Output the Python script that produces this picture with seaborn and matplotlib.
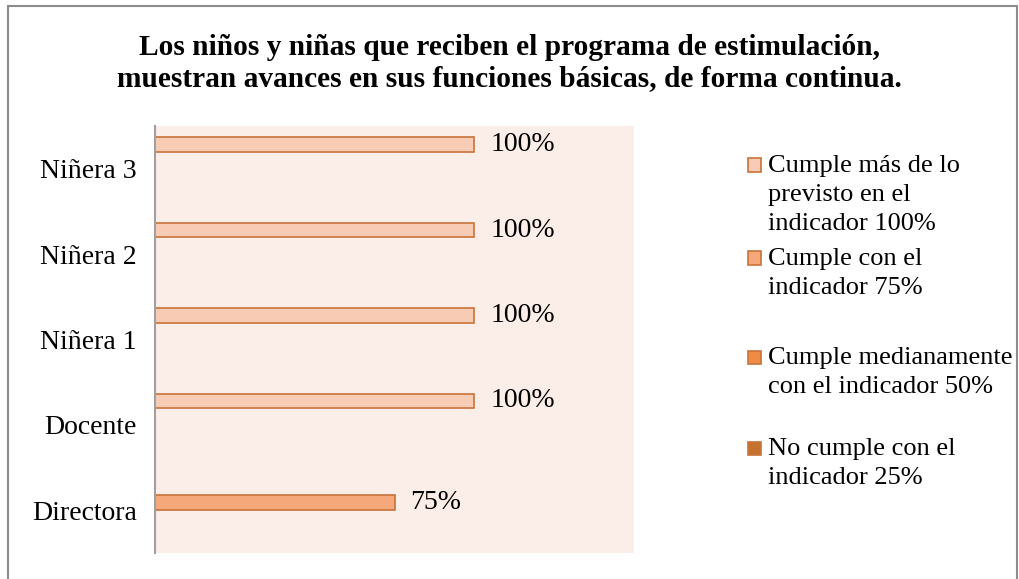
import matplotlib
matplotlib.use("Agg")
import matplotlib.pyplot as plt
import seaborn as sns
import pandas as pd
from matplotlib.patches import Rectangle

# =============================
# Data
# =============================
categories = ["Niñera 3", "Niñera 2", "Niñera 1", "Docente", "Directora"]
series = ["Cumple más de lo\nprevisto en el\nindicador 100%",
          "Cumple con el\nindicador 75%",
          "Cumple medianamente\ncon el indicador 50%",
          "No cumple con el\nindicador 25%"]
# one value per category, and which series it belongs to
values = [100, 100, 100, 100, 75]
value_series = [0, 0, 0, 0, 1]

title = ("Los niños y niñas que reciben el programa de estimulación,\n"
         "muestran avances en sus funciones básicas, de forma continua.")

colors = ["#F8CBB4", "#F5A97A", "#EE8C45", "#C6712E"]
edge = "#C8733A"

df = pd.DataFrame({
    "categoria": categories,
    "serie": [series[i] for i in value_series],
    "valor": values,
})

# =============================
# Style
# =============================
sns.set_theme(style="white")
plt.rcParams["font.family"] = ["Liberation Serif", "DejaVu Serif"]
plt.rcParams["text.color"] = "black"

W, H = 1019, 579
fig = plt.figure(figsize=(W / 100, H / 100), dpi=100)

# chart border
fig.patches.append(Rectangle((8 / W, -0.05), (1017 - 8) / W, 1.05 - 6 / H,
                             transform=fig.transFigure, fill=False,
                             edgecolor="#8C8C8C", linewidth=1.5))

ax = fig.add_axes([155 / W, (H - 553) / H, (634 - 155) / W, (553 - 126) / H])
ax.set_facecolor("#FBEDE8")

sns.barplot(data=df, y="categoria", x="valor", hue="serie",
            order=categories, hue_order=series, palette=colors,
            saturation=1, orient="h", width=0.75, gap=0.08, dodge=True,
            edgecolor=edge, linewidth=1.2, legend=False, ax=ax)

ax.set_xlim(0, 150)
ax.set_xlabel("")
ax.set_ylabel("")
ax.set_xticks([])
ax.tick_params(axis="y", length=0, labelsize=20, pad=13, colors="black")
for s in ["top", "right", "bottom"]:
    ax.spines[s].set_visible(False)
ax.spines["left"].set_color("#A0A0A0")
ax.spines["left"].set_linewidth(1.5)

# data labels
for cont in ax.containers:
    for bar in cont:
        w = bar.get_width()
        if w != w or w == 0:
            continue
        yc = bar.get_y() + bar.get_height() / 2
        ax.text(w + 5, yc, f"{w:.0f}%", va="center", ha="left", fontsize=20)

fig.text(0.5, (H - 63) / H, title, ha="center", va="center",
         fontsize=21.2, fontweight="bold", linespacing=1.2)

# legend
leg_y = [165, 258, 357, 448]
for i, (lab, c) in enumerate(zip(series, colors)):
    yy = (H - leg_y[i]) / H
    fig.patches.append(Rectangle((748 / W, yy - 6.5 / H), 13 / W, 13 / H,
                                 transform=fig.transFigure, facecolor=c,
                                 edgecolor=edge, linewidth=1.2))
    fig.text(768 / W, yy + 10 / H, lab, ha="left", va="top",
             fontsize=19, linespacing=1.42)

fig.savefig("out.png", dpi=100)
